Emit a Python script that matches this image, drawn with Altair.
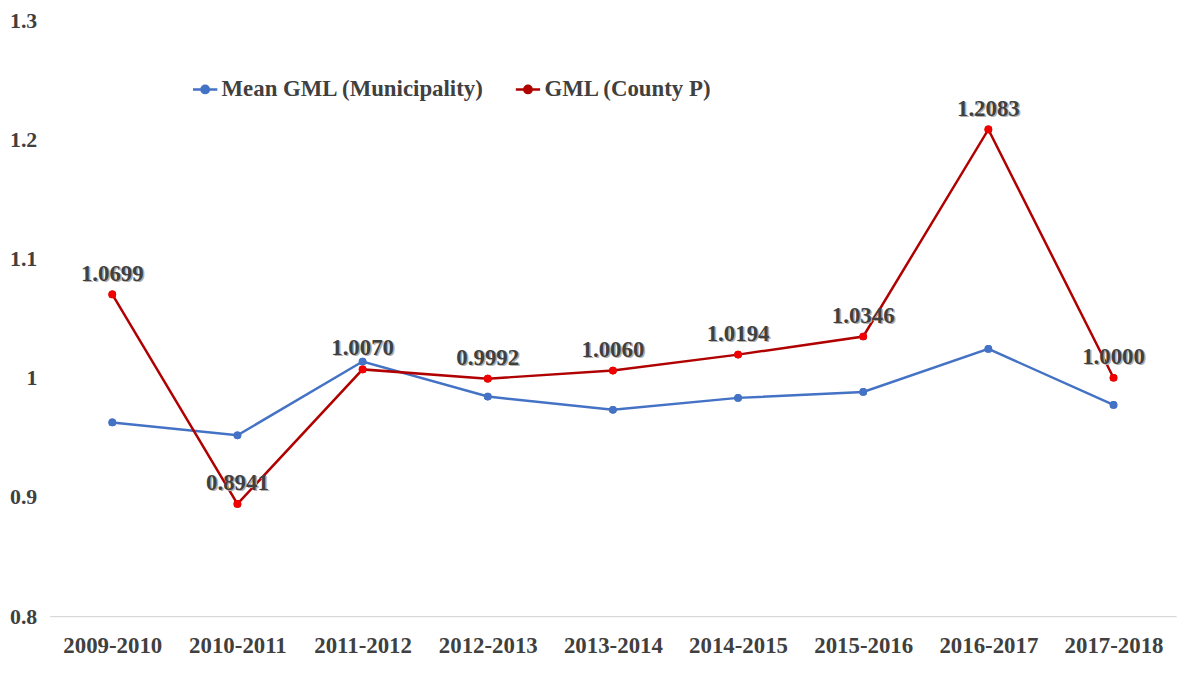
import altair as alt
import pandas as pd

periods = ["2009-2010", "2010-2011", "2011-2012", "2012-2013", "2013-2014",
           "2014-2015", "2015-2016", "2016-2017", "2017-2018"]
mean_gml = [0.9625, 0.9517, 1.0136, 0.9842, 0.9731, 0.9831, 0.9881, 1.0242, 0.9772]
county_gml = [1.0699, 0.8941, 1.0070, 0.9992, 1.0060, 1.0194, 1.0346, 1.2083, 1.0000]
series_names = ["Mean GML (Municipality)", "GML (County P)"]
line_colors = ["#4472C4", "#B00000"]
point_colors = ["#4472C4", "#F00000"]
y_ticks = [0.8, 0.9, 1.0, 1.1, 1.2, 1.3]

rows = []
for i, p in enumerate(periods):
    rows.append({"period": p, "series": series_names[0], "value": mean_gml[i], "pcolor": point_colors[0]})
    rows.append({"period": p, "series": series_names[1], "value": county_gml[i], "pcolor": point_colors[1]})
df = pd.DataFrame(rows)

FONT = "Liberation Serif"
TXT = "#404040"

x_enc = alt.X("period:N", sort=periods, title=None,
              scale=alt.Scale(type="point", padding=0.5),
              axis=alt.Axis(labelAngle=0, labelFont=FONT, labelFontSize=23, labelFontWeight="bold",
                            labelColor=TXT, ticks=False, domainColor="#d9d9d9", domainWidth=1.2,
                            labelPadding=19, grid=False))
y_enc = alt.Y("value:Q", title=None,
              scale=alt.Scale(domain=[0.8, 1.3], nice=False, zero=False),
              axis=alt.Axis(values=y_ticks, labelExpr="format(datum.value, '.1~f')",
                            labelFont=FONT, labelFontSize=22, labelFontWeight="bold",
                            labelColor=TXT, ticks=False, domain=False, grid=False,
                            labelPadding=13))

sym = "M-1,0H-0.32M0.32,0H1M-0.3,0A0.3,0.3,0,1,0,0.3,0A0.3,0.3,0,1,0,-0.3,0Z"

color_enc = alt.Color("series:N", sort=series_names,
                      scale=alt.Scale(domain=series_names, range=line_colors),
                      legend=alt.Legend(title=None, orient="none", legendX=143, legendY=56,
                                        direction="horizontal", symbolType=sym, symbolSize=600,
                                        symbolStrokeWidth=2.5, labelFont=FONT, labelFontSize=23,
                                        labelFontWeight="bold", labelColor=TXT, columnPadding=26,
                                        labelOffset=3, labelLimit=400))

base = alt.Chart(df)
lines = base.mark_line(strokeWidth=2.5).encode(x=x_enc, y=y_enc, color=color_enc)
points_leg = base.mark_circle(size=60, opacity=1).encode(x=x_enc, y=y_enc, color=color_enc)
points = base.mark_circle(size=60, opacity=1).encode(
    x=x_enc, y=y_enc,
    color=alt.Color("pcolor:N", scale=None),
)
label_base = base.transform_filter(alt.datum.series == series_names[1])
shadow = label_base.mark_text(
    dy=-20, dx=1.5, font=FONT, fontSize=23, fontWeight="bold", color="#b0b0b0"
).encode(x=x_enc, y=y_enc, text=alt.Text("value:Q", format=".4f"))
labels = label_base.mark_text(
    dy=-21, font=FONT, fontSize=23, fontWeight="bold", color=TXT
).encode(x=x_enc, y=y_enc, text=alt.Text("value:Q", format=".4f"))

chart = alt.layer(lines, points_leg, points, shadow, labels).properties(
    width=1134, height=600,
    autosize=alt.AutoSizeParams(type="none"),
    padding={"left": 42, "top": 10, "right": 16, "bottom": 50},
).configure(background="white").configure_view(stroke=None)

chart.save("out.html", embed_options={"renderer": "svg", "actions": False})
